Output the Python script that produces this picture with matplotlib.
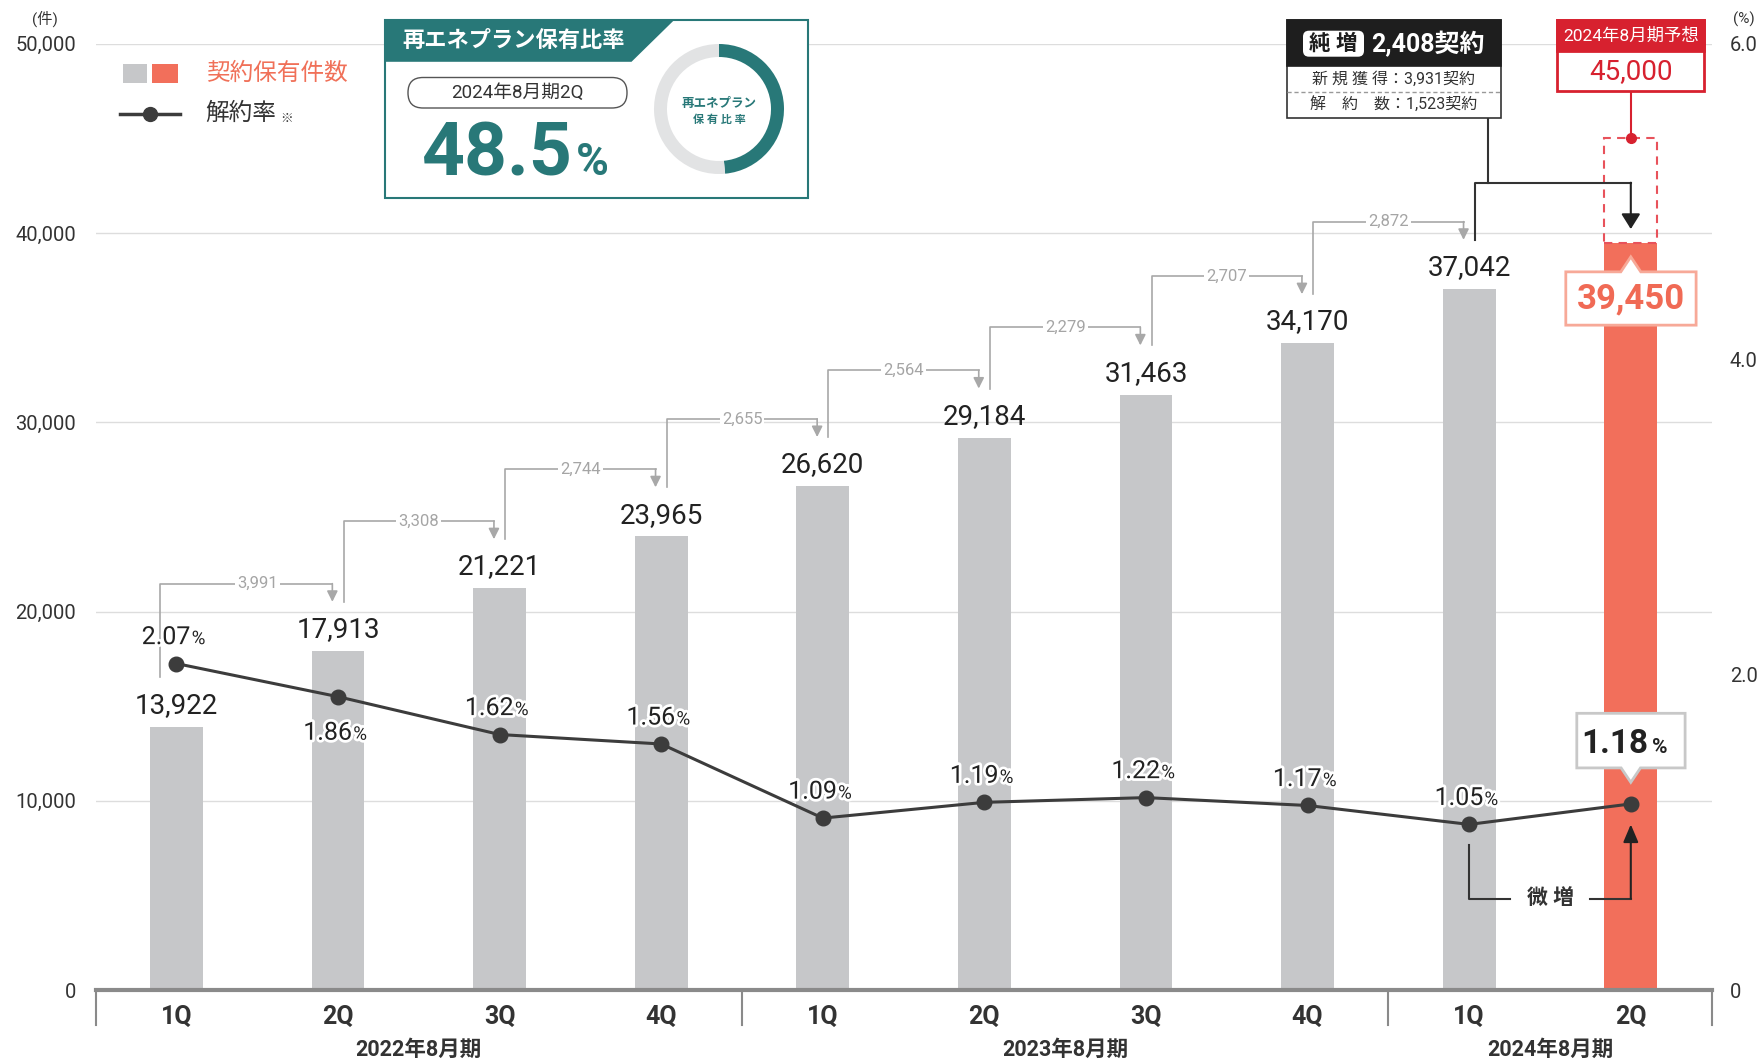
import numpy as np
import matplotlib
matplotlib.use('Agg')
import matplotlib.pyplot as plt
import matplotlib.patches as mpatches
import matplotlib.transforms as mtransforms
import matplotlib.patheffects as pe
from matplotlib.lines import Line2D

plt.rcParams['font.family'] = ['Roboto', 'Noto Sans CJK JP', 'DejaVu Sans']

# data
quarters = ['1Q', '2Q', '3Q', '4Q', '1Q', '2Q', '3Q', '4Q', '1Q', '2Q']
fiscal_years = ['2022年8月期', '2023年8月期', '2024年8月期']
year_spans = [(0, 3), (4, 7), (8, 9)]
contracts = [13922, 17913, 21221, 23965, 26620, 29184, 31463, 34170, 37042, 39450]
churn_rate = [2.07, 1.86, 1.62, 1.56, 1.09, 1.19, 1.22, 1.17, 1.05, 1.18]
forecast_2q = 45000
new_contracts = 3931
cancelled = 1523
renew_share = 48.5

GRAY_BAR = '#C6C7C9'
ORANGE = '#F26F5B'
RED = '#D7212F'
TEAL = '#287878'
DARK = '#333333'
LINE = '#3C3C3C'
BRACKET = '#A8A8A8'

W, H = 1762, 1062
fig = plt.figure(figsize=(W / 100, H / 100), dpi=100)
PX = mtransforms.Affine2D().scale(1 / W, -1 / H).translate(0, 1) + fig.transFigure


def at(axis, x, y):
    # pixel offsets (y up) around a data point
    return (mtransforms.Affine2D().scale(1 / 100) + fig.dpi_scale_trans
            + mtransforms.ScaledTranslation(x, y, axis.transData))


ax = fig.add_axes([95.6 / W, 1 - 990 / H, (1711.6 - 95.6) / W, (990 - 43.8) / H])
x = np.arange(len(contracts))
bar_colors = [GRAY_BAR] * (len(contracts) - 1) + [ORANGE]
bw = 0.326
ax.bar(x, contracts, width=bw, color=bar_colors, zorder=2)
# forecast outline
ax.bar(x[-1], forecast_2q - contracts[-1], bottom=contracts[-1], width=bw, fill=False,
       edgecolor='#E8525B', linestyle=(0, (4, 3)), lw=1.5, zorder=3)

ax.set_xlim(-0.5, 9.5)
ax.set_ylim(0, 50000)
yt = list(range(0, 50001, 10000))
ax.set_yticks(yt)
ax.set_yticklabels([f'{v:,}' for v in yt])
ax.yaxis.grid(True, color='#DDDDDD', lw=1)
ax.set_axisbelow(True)
ax.tick_params(axis='y', length=0, pad=14, labelsize=14.5, colors=DARK)
ax.set_xticks(x)
ax.set_xticklabels(quarters, fontweight='bold', fontsize=18, color=DARK)
ax.tick_params(axis='x', length=0, pad=11)
for s in ['top', 'left', 'right']:
    ax.spines[s].set_visible(False)
ax.spines['bottom'].set_color('#8A8A8A')
ax.spines['bottom'].set_linewidth(3)

# year separators and labels
seps = [-0.5] + [b + 0.5 for a, b in year_spans]
for xs in seps:
    ax.plot([xs, xs], [0, -0.037], transform=ax.get_xaxis_transform(), color='#8A8A8A',
            lw=1.5, clip_on=False)
for fy, (a, b) in zip(fiscal_years, year_spans):
    ax.annotate(fy, xy=((a + b) / 2, 0), xycoords=ax.get_xaxis_transform(), xytext=(0, -43),
                textcoords='offset points', ha='center', va='center', fontsize=15.5,
                fontweight='bold', color=DARK)

# bar value labels
for i, v in enumerate(contracts[:-1]):
    ax.annotate(f'{v:,}', (i, v), xytext=(0, 10), textcoords='offset points', ha='center',
                va='baseline', fontsize=20, color='#222222')

# step brackets
steps = np.diff(contracts)
for i, d in enumerate(steps[:-1]):
    x0 = i - 0.1 if i == 0 else i + 0.035
    x1 = i + 1 - 0.035
    y0 = contracts[i] + 2600
    yh = contracts[i + 1] + 3560
    y1 = contracts[i + 1] + 2600
    ax.plot([x0, x0, x1], [y0, yh, yh], color=BRACKET, lw=1.2, zorder=3)
    ax.annotate('', xy=(x1, y1), xytext=(x1, yh),
                arrowprops=dict(arrowstyle='-|>,head_length=0.4,head_width=0.2',
                                mutation_scale=16, color=BRACKET, lw=1.2,
                                shrinkA=0, shrinkB=0), zorder=3)
    ax.text(i + 0.5, yh, f'{d:,}', ha='center', va='center', fontsize=12, color='#A5A5A5',
            bbox=dict(fc='white', ec='none', pad=1.5), zorder=4)

# net increase connector
net = contracts[-1] - contracts[-2]
ax.plot([8.114, 8.114], [46080, 42660], color=DARK, lw=1.5, clip_on=False, zorder=4)
ax.plot([8.035, 8.035, 9], [contracts[8] + 2600, 42660, 42660], color=DARK, lw=1.5, zorder=4)
ax.annotate('', xy=(9, contracts[9] + 760), xytext=(9, 42660),
            arrowprops=dict(arrowstyle='-|>,head_length=0.4,head_width=0.25',
                            mutation_scale=23, color='#222222', lw=1.5,
                            shrinkA=0, shrinkB=0), zorder=4)


def callout(axis, xd, yd, left, right, bottom, top, notch_y, notch_w, ec, lw):
    if notch_y > top:
        verts = [(left, bottom), (right, bottom), (right, top), (notch_w, top), (0, notch_y),
                 (-notch_w, top), (left, top)]
    else:
        verts = [(left, top), (right, top), (right, bottom), (notch_w, bottom), (0, notch_y),
                 (-notch_w, bottom), (left, bottom)]
    axis.add_patch(mpatches.Polygon(verts, closed=True, transform=at(axis, xd, yd), fc='white',
                                    ec=ec, lw=lw, zorder=6, clip_on=False))


# 39,450 callout
callout(ax, 9, contracts[-1], -65, 65.3, -81.7, -28.4, -13.4, 10, '#F7A998', 2)
ax.text(0, -55, f'{contracts[-1]:,}', transform=at(ax, 9, contracts[-1]), ha='center',
        va='center', fontsize=25, fontweight='bold', color='#F06A55', zorder=7)

# forecast box
ft = at(ax, 9, forecast_2q)
ax.plot([0, 0], [0, 47], transform=ft, color=RED, lw=1.5, clip_on=False, zorder=6)
ax.plot(9, forecast_2q, 'o', color=RED, ms=7, zorder=7, clip_on=False)
ax.add_patch(mpatches.Rectangle((-73.7, 47), 147, 71.4, transform=ft, fc='white', ec=RED,
                                lw=2, zorder=6, clip_on=False))
ax.add_patch(mpatches.Rectangle((-73.7, 87.7), 147, 30.7, transform=ft, fc=RED, ec=RED,
                                lw=2, zorder=6, clip_on=False))
ax.text(0, 103, '2024年8月期予想', transform=ft, ha='center', va='center', fontsize=12.5,
        color='white', zorder=7)
ax.text(0, 67.3, f'{forecast_2q:,}', transform=ft, ha='center', va='center', fontsize=20,
        color=RED, zorder=7)

# churn rate line
ax2 = ax.twinx()
ax2.set_ylim(0, 6)
ax2.set_yticks([0, 2, 4, 6])
ax2.set_yticklabels(['0', '2.0', '4.0', '6.0'])
ax2.tick_params(axis='y', length=0, pad=13, labelsize=14.5, colors=DARK)
for s in ax2.spines.values():
    s.set_visible(False)
ax2.plot(x, churn_rate, color=LINE, lw=2.2, marker='o', ms=10.5, zorder=5)

halo = [pe.withStroke(linewidth=4, foreground='white')]
for i, r in enumerate(churn_rate[:-1]):
    dy = -31 if i == 1 else 14
    ax2.annotate(f'{r:.2f}', (i, r), xytext=(10, dy), textcoords='offset points', ha='right',
                 va='baseline', fontsize=18, color='#222222', path_effects=halo, zorder=6)
    ax2.annotate('%', (i, r), xytext=(11, dy), textcoords='offset points', ha='left',
                 va='baseline', fontsize=13.5, color='#222222', path_effects=halo, zorder=6)

callout(ax2, 9, churn_rate[-1], -54, 54.3, 36, 90.6, 21.6, 9.7, '#C8C8C8', 2)
ax2.annotate(f'{churn_rate[-1]:.2f}', (9, churn_rate[-1]), xytext=(12.7, 36.4),
             textcoords='offset points', ha='right', va='baseline', fontsize=24,
             fontweight='bold', color='#222222', zorder=7)
ax2.annotate('%', (9, churn_rate[-1]), xytext=(15.5, 36.4), textcoords='offset points',
             ha='left', va='baseline', fontsize=15, fontweight='bold', color='#222222', zorder=7)

# slight increase connector
gap = 0.13
low = 0.58
ax2.plot([8, 8, 8.253], [churn_rate[8] - gap, low, low], color=DARK, lw=1.5)
ax2.plot([8.747, 9], [low, low], color=DARK, lw=1.5)
ax2.annotate('', xy=(9, churn_rate[9] - gap), xytext=(9, low),
             arrowprops=dict(arrowstyle='-|>,head_length=0.4,head_width=0.17',
                             mutation_scale=27, color='#222222', lw=1.5,
                             shrinkA=0, shrinkB=0))
ax2.text(8.5, low, '微 増', ha='center', va='center', fontsize=15, fontweight='bold',
         color=DARK)

# axis unit labels
fig.text(45, 19, '(件)', transform=PX, ha='center', va='center', fontsize=11, color=DARK)
fig.text(1744, 19, '(%)', transform=PX, ha='center', va='center', fontsize=11, color=DARK)

# legend
fig.add_artist(mpatches.Rectangle((122.5, 64), 24.5, 19, transform=PX, fc=GRAY_BAR, ec='none'))
fig.add_artist(mpatches.Rectangle((151.7, 64), 25.8, 19, transform=PX, fc=ORANGE, ec='none'))
fig.text(205.6, 73, '契約保有件数', transform=PX, ha='left', va='center', fontsize=17,
         color='#F07058')
fig.add_artist(Line2D([120, 180], [113.5, 113.5], transform=PX, color=LINE, lw=2.5))
fig.add_artist(Line2D([149.5], [113.5], transform=PX, color=LINE, marker='o', ms=10))
fig.text(205.6, 113.5, '解約率', transform=PX, ha='left', va='center', fontsize=17,
         color=DARK)
fig.text(280, 119, '※', transform=PX, ha='left', va='center', fontsize=9, color=DARK)

# renewable share panel
fig.add_artist(mpatches.Rectangle((385.4, 20.2), 422.6, 177.6, transform=PX, fc='white',
                                  ec=TEAL, lw=1.5))
fig.add_artist(mpatches.Polygon([(385.4, 20.2), (674, 20.2), (631.5, 61.8), (385.4, 61.8)],
                                closed=True, transform=PX, fc=TEAL, ec='none'))
fig.text(402, 40.5, '再エネプラン保有比率', transform=PX, ha='left', va='center', fontsize=16,
         fontweight='bold', color='white')
fig.add_artist(mpatches.FancyBboxPatch((408, 77.5), 219, 30.5,
                                       boxstyle='round,pad=0,rounding_size=15',
                                       transform=PX, fc='white', ec='#555555', lw=1))
fig.text(517.5, 93, '2024年8月期2Q', transform=PX, ha='center', va='center', fontsize=13.5,
         color=DARK)
share_txt = fig.text(422, 175, f'{renew_share:.1f}', transform=PX, ha='left', va='baseline',
                     fontsize=54, fontweight='bold', color=TEAL)
fig.canvas.draw()
share_right = share_txt.get_window_extent().x1
fig.text(share_right + 3, 175, '%', transform=PX, ha='left', va='baseline', fontsize=32,
         fontweight='bold', color=TEAL)

dax = fig.add_axes([654 / W, 1 - 174 / H, 130 / W, 130 / H])
dax.pie([renew_share, 100 - renew_share], colors=[TEAL, '#E2E3E4'], startangle=90,
        counterclock=False, wedgeprops=dict(width=0.2, linewidth=0))
dax.set_xlim(-1, 1)
dax.set_ylim(-1, 1)
dax.set_aspect('equal')
dax.set_zorder(5)
fig.text(719, 103, '再エネプラン', transform=PX, ha='center', va='center', fontsize=9,
         fontweight='bold', color=TEAL, zorder=6)
fig.text(719, 120, '保 有 比 率', transform=PX, ha='center', va='center', fontsize=8,
         fontweight='bold', color=TEAL, zorder=6)

# net increase box
fig.add_artist(mpatches.Rectangle((1287, 20), 214, 98, transform=PX, fc='white', ec=DARK,
                                  lw=1.2))
fig.add_artist(mpatches.Rectangle((1287, 20), 214, 46, transform=PX, fc='#1E1E1E',
                                  ec='#1E1E1E', lw=1.2))
fig.add_artist(mpatches.FancyBboxPatch((1303, 30.7), 61, 26,
                                       boxstyle='round,pad=0,rounding_size=6',
                                       transform=PX, fc='white', ec='none'))
fig.text(1333.5, 44, '純 増', transform=PX, ha='center', va='center', fontsize=15.5,
         fontweight='bold', color='#1E1E1E')
fig.text(1371, 44, f'{net:,}契約', transform=PX, ha='left', va='center', fontsize=18,
         fontweight='bold', color='white')
fig.add_artist(Line2D([1287, 1501], [91.7, 91.7], transform=PX, color='#999999', lw=1,
                      ls=(0, (3, 2))))
fig.text(1394, 79, f'新 規 獲 得：{new_contracts:,}契約', transform=PX, ha='center',
         va='center', fontsize=11.5, color=DARK)
fig.text(1394, 105, f'解　約　数：{cancelled:,}契約', transform=PX, ha='center',
         va='center', fontsize=11.5, color=DARK)

fig.savefig('out.png', dpi=100)
